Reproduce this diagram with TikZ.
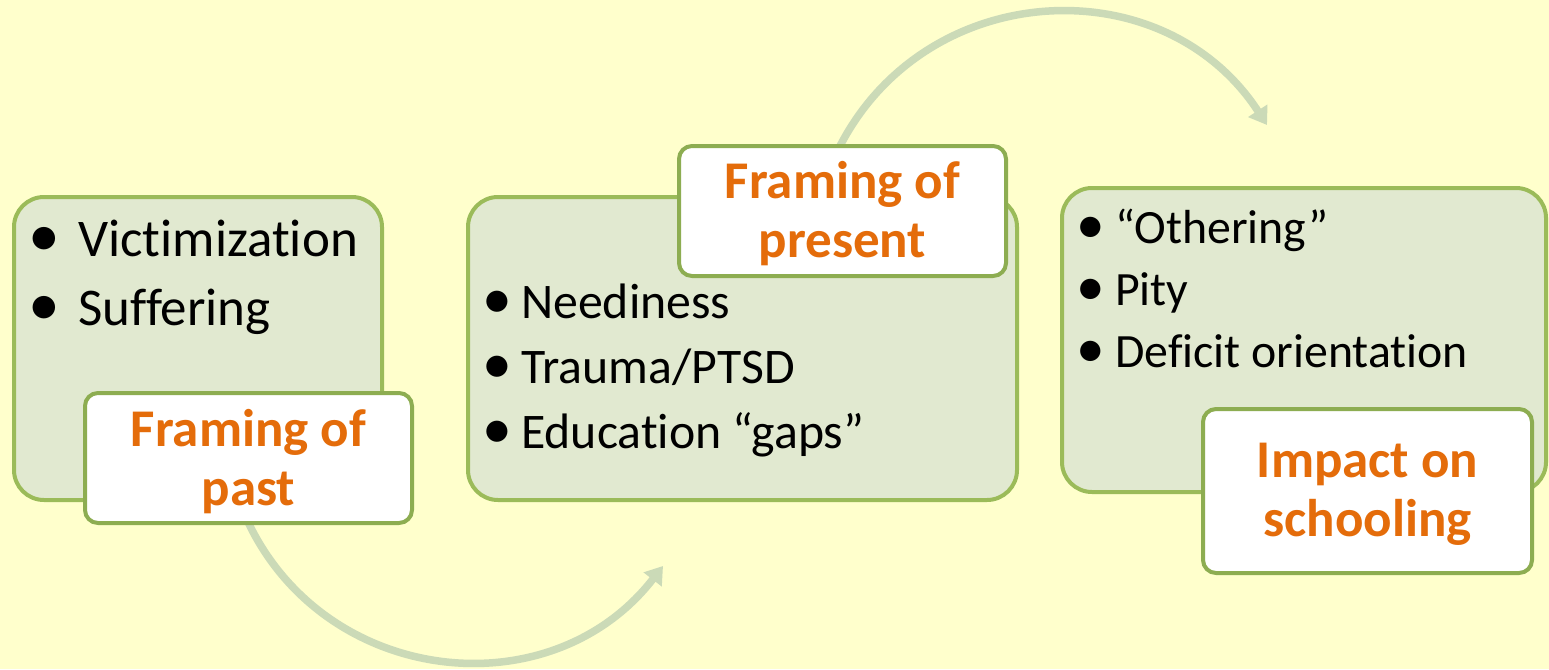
\documentclass[tikz,border=0pt]{standalone}
\usepackage{fontspec}
\setmainfont{Carlito}[Ligatures=NoCommon]
\usetikzlibrary{arrows.meta}
\definecolor{bg}{HTML}{FFFFCC}
\definecolor{boxfill}{HTML}{E1E9D0}
\definecolor{boxline}{HTML}{9BBB59}
\definecolor{labline}{HTML}{8DAD51}
\definecolor{orangetxt}{HTML}{E46C0A}
\definecolor{arrowc}{HTML}{CBDAB7}
\newcommand{\bul}[1]{\makebox[#1][l]{\scalebox{1.2}{\textbullet}}}
\begin{document}
\begin{tikzpicture}[x=1pt,y=-1pt,
  bigbox/.style={draw=boxline, fill=boxfill, line width=4pt, rounded corners=30pt, inner sep=0pt},
  labbox/.style={draw=labline, fill=white, line width=4pt, rounded corners=13pt, inner sep=0pt},
  labtext/.style={text=orangetxt, font=\bfseries\fontsize{53}{59}\selectfont, align=center, inner sep=0pt},
  itemA/.style={anchor=base west, inner sep=0pt, font=\fontsize{53}{62}\selectfont},
  itemB/.style={anchor=base west, inner sep=0pt, font=\fontsize{49.8}{60}\selectfont},
  itemC/.style={anchor=base west, inner sep=0pt, font=\fontsize{47.8}{58}\selectfont},
  flow/.style={draw=arrowc, line width=7.5pt, -{Triangle[length=17pt,width=22pt]}}
]
\useasboundingbox[fill=bg] (0,0) rectangle (1549,669);

% shapes (empty) for boxes and labels
\node[bigbox, minimum width=368pt, minimum height=303pt] (box1) at (198,348.5) {};
\node[bigbox, minimum width=549pt, minimum height=303pt] (box2) at (742.5,348.5) {};
\node[bigbox, minimum width=484pt, minimum height=304pt] (box3) at (1304,340) {};

% connector coordinates
\coordinate (a1start) at (248.5,523);
\coordinate (a1end) at (663,566);
\coordinate (a2start) at (840,146);
\coordinate (a2end) at (1267,125);

\draw[flow] (a1start) .. controls (327.3,686.8) and (551.6,710) .. (a1end);
\draw[flow] (a2start) .. controls (926.9,-22.4) and (1163.8,-33.7) .. (a2end);

% box 1 items
\node[itemA] (b1i1) at (28,256) {\bul{50pt}Victimization};
\node[itemA] (b1i2) at (28,325) {\bul{50pt}Suffering};

% box 2 items
\node[itemB] (b2i1) at (482,318) {\bul{39pt}Neediness};
\node[itemB] (b2i2) at (482,383) {\bul{39pt}Trauma/PTSD};
\node[itemB] (b2i3) at (482,448) {\bul{39pt}Education “gaps”};

% box 3 items
\node[itemC] (b3i1) at (1076,243) {\bul{39pt}“Othering”};
\node[itemC] (b3i2) at (1076,305) {\bul{39pt}Pity};
\node[itemC] (b3i3) at (1076,367) {\bul{39pt}Deficit orientation};

% labels
\node[labbox, minimum width=327pt, minimum height=130pt] (lab1) at (248.5,458) {};
\node[labtext] (lab1t) at (248.5,462) {Framing of\\past};
\node[labbox, minimum width=327pt, minimum height=130pt] (lab2) at (842.5,211) {};
\node[labtext] (lab2t) at (842.5,214) {Framing of\\present};
\node[labbox, minimum width=329pt, minimum height=164pt] (lab3) at (1367.5,491) {};
\node[labtext] (lab3t) at (1367.5,494) {Impact on\\schooling};
\end{tikzpicture}
\end{document}
